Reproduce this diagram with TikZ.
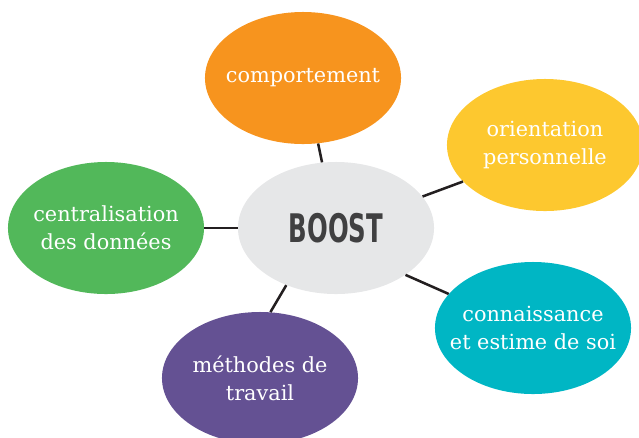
\documentclass[tikz,border=0pt]{standalone}
\usepackage{fontspec}
\usetikzlibrary{shapes.geometric}
\setmainfont{DejaVu Serif}
\newfontfamily\boostfont[FakeStretch=0.62]{DejaVu Sans}
\definecolor{boostgray}{HTML}{E6E7E8}
\definecolor{boosttext}{HTML}{404041}
\definecolor{orangefill}{HTML}{F7941E}
\definecolor{yellowfill}{HTML}{FDC82F}
\definecolor{greenfill}{HTML}{52B85A}
\definecolor{purplefill}{HTML}{645193}
\definecolor{tealfill}{HTML}{00B6C4}
\definecolor{linkgray}{HTML}{231F20}

\begin{document}
\begin{tikzpicture}[x=0.025cm, y=-0.025cm,
	bubble/.style={shape=ellipse, fill=#1, minimum width=4.9cm, minimum height=3.3cm, inner sep=0pt},
	words/.style={text=white, align=center, font=\fontsize{14.8}{20}\selectfont},
	link/.style={line width=1.8pt, draw=linkgray}]
	\path[use as bounding box, clip] (0,0) rectangle (639,437);

	\node[bubble=boostgray] (boost) at (336,228) {\boostfont\bfseries\fontsize{28}{28}\selectfont\textcolor{boosttext}{BOOST}};
	\node[bubble=orangefill, label={[words]center:comportement}] (comportement) at (303,78) {};
	\node[bubble=yellowfill, label={[words]center:orientation\\personnelle}] (orientation) at (545,145) {};
	\node[bubble=greenfill, label={[words]center:centralisation\\des données}] (centralisation) at (106,228) {};
	\node[bubble=purplefill, label={[words]center:méthodes de\\travail}] (methodes) at (260,378) {};
	\node[bubble=tealfill, label={[words]center:connaissance\\et estime de soi}] (connaissance) at (533,328) {};

	\path[link] (boost.102) edge (comportement.283);
	\path[link] (boost.20) edge (orientation.204);
	\path[link] (boost.180) edge (centralisation.0);
	\path[link] (boost.229) edge (methodes.81);
	\path[link] (boost.326) edge (connaissance.158);

\end{tikzpicture}
\end{document}
